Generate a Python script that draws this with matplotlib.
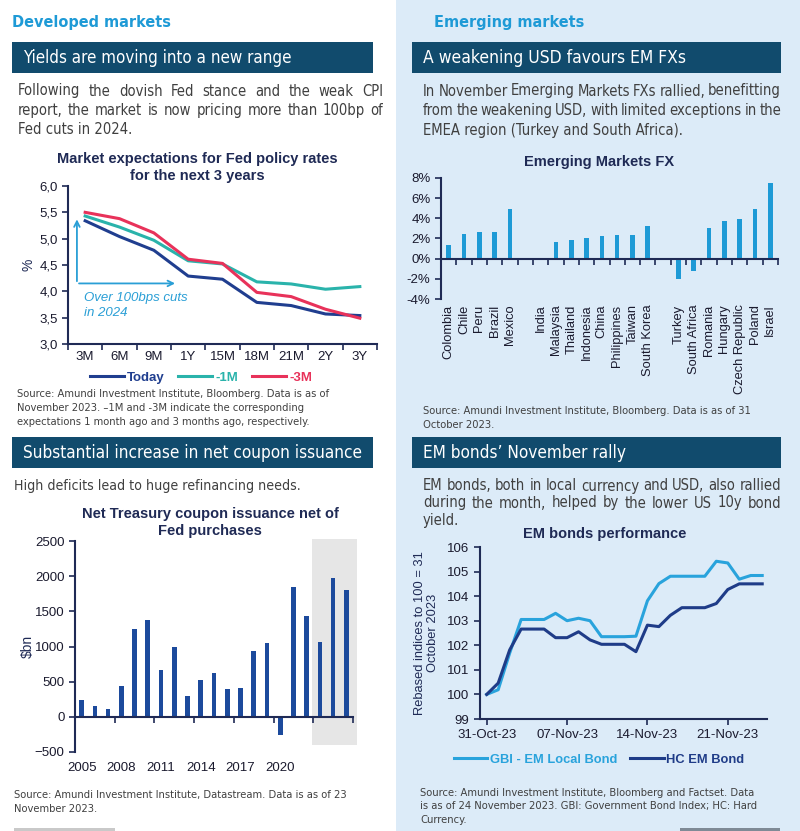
import numpy as np
import pandas as pd
import matplotlib
matplotlib.use('Agg')
import matplotlib.pyplot as plt
import matplotlib.dates as mdates
from matplotlib import font_manager
from matplotlib.patches import Rectangle
from matplotlib.ticker import FixedLocator, NullFormatter, FuncFormatter

plt.rcParams['font.family'] = ['Liberation Sans', 'DejaVu Sans']

W, H = 800, 831

NAVY = '#1f2a55'
HEADER = '#114b6d'
CYAN = '#1e9ad6'
TXT = '#404040'
PANEL = '#dcebf8'

# the report uses Arial Narrow for the running text
_fonts = font_manager.fontManager.ttflist
if any(f.name == 'Liberation Sans Narrow' for f in _fonts):
    NARROW = dict(family='Liberation Sans Narrow')
elif any(f.name == 'DejaVu Sans' and f.stretch != 'normal' for f in _fonts):
    NARROW = dict(family='DejaVu Sans', fontstretch='condensed')
else:
    NARROW = dict(family='Liberation Sans')

# Market expectations for Fed policy rates
fed_horizons = ['3M', '6M', '9M', '1Y', '15M', '18M', '21M', '2Y', '3Y']
fed_today = [5.34, 5.04, 4.78, 4.29, 4.23, 3.79, 3.73, 3.57, 3.54]
fed_1m = [5.43, 5.22, 4.97, 4.58, 4.52, 4.18, 4.14, 4.04, 4.09]
fed_3m = [5.50, 5.38, 5.11, 4.61, 4.53, 3.98, 3.90, 3.66, 3.49]

# Emerging markets FX (empty slots separate the regions)
fx_countries = ['Colombia', 'Chile', 'Peru', 'Brazil', 'Mexico', '',
                'India', 'Malaysia', 'Thailand', 'Indonesia', 'China',
                'Philippines', 'Taiwan', 'South Korea', '',
                'Turkey', 'South Africa', 'Romania', 'Hungary',
                'Czech Republic', 'Poland', 'Israel']
fx_change = [1.32, 2.40, 2.64, 2.64, 4.90, np.nan,
             -0.05, 1.65, 1.90, 2.00, 2.25, 2.35, 2.35, 3.27, np.nan,
             -2.00, -1.25, 3.05, 3.70, 3.90, 4.92, 7.47]

# Net Treasury coupon issuance net of Fed purchases ($bn)
issuance_years = ['2005', '2006', '2007', '2008', '2009', '2010', '2011',
                  '2012', '2013', '2014', '2015', '2016', '2017', '2018',
                  '2019', '2020', '2021', '2022', '2023E', '2024E', '2025E']
issuance = [237, 152, 118, 440, 1255, 1373, 672, 999, 303, 526, 630, 402,
            412, 942, 1056, -260, 1842, 1435, 1070, 1979, 1804]

# EM bonds performance
bond_dates = pd.date_range('2023-10-31', '2023-11-24', freq='D')
gbi_local = [100.0, 100.19, 101.68, 103.05, 103.05, 103.05, 103.3, 103.0,
             103.1, 103.0, 102.35, 102.35, 102.35, 102.37, 103.81, 104.51,
             104.81, 104.81, 104.81, 104.81, 105.42, 105.35, 104.69, 104.84,
             104.84]
hc_bond = [100.0, 100.46, 101.81, 102.66, 102.66, 102.66, 102.31, 102.31,
           102.55, 102.22, 102.04, 102.04, 102.04, 101.74, 102.82, 102.76,
           103.22, 103.53, 103.53, 103.53, 103.7, 104.27, 104.5, 104.5, 104.5]


fig = plt.figure(figsize=(W / 100, H / 100), dpi=100)
renderer = fig.canvas.get_renderer()
bg = fig.add_axes([0, 0, 1, 1])
bg.set_xlim(0, W)
bg.set_ylim(H, 0)
bg.axis('off')
bg.set_zorder(0)


def fit_size(s, width, **kw):
    '''Font size that makes the string s about width pixels wide.'''
    t = bg.text(0, 0, s, fontsize=10, **kw)
    w = t.get_window_extent(renderer).width
    t.remove()
    return 10 * width / w


def px_axes(x0, y0, x1, y1):
    ax = fig.add_axes([x0 / W, 1 - y1 / H, (x1 - x0) / W, (y1 - y0) / H])
    ax.set_zorder(1)
    ax.set_facecolor('none')
    for side in ['top', 'right']:
        ax.spines[side].set_visible(False)
    for side in ['left', 'bottom']:
        ax.spines[side].set_color(NAVY)
        ax.spines[side].set_linewidth(1.5)
    ax.tick_params(colors=NAVY, labelcolor='#1a1a2e', width=1.2, length=4,
                   labelsize=9.5)
    ax.tick_params(which='minor', labelsize=9.5, labelcolor='#1a1a2e')
    return ax


def lines_at(x, y, step, lines, **kw):
    for i, line in enumerate(lines):
        bg.text(x, y + i * step, line, va='center', **kw)


def justify(lines, x0, x1, y, step, **kw):
    for i, line in enumerate(lines):
        yy = y + i * step
        words = line.split()
        if i == len(lines) - 1:
            bg.text(x0, yy, line, va='center', **kw)
            continue
        texts = [bg.text(0, yy, w, va='center', **kw) for w in words]
        widths = [t.get_window_extent(renderer).width for t in texts]
        gap = (x1 - x0 - sum(widths)) / (len(words) - 1)
        x = x0
        for t, w in zip(texts, widths):
            t.set_x(x)
            x += w + gap


def header(x0, x1, y0, title, width):
    bg.add_patch(Rectangle((x0, y0), x1 - x0, 31, color=HEADER, lw=0))
    bg.text(x0 + 11, y0 + 16, title, color='white', va='center',
            fontsize=fit_size(title, width, **NARROW), **NARROW)


def category_ticks(ax, n, labels, pad, rotation=0):
    ax.set_xlim(-0.5, n - 0.5)
    ax.xaxis.set_major_locator(FixedLocator(np.arange(-0.5, n, 1.0)))
    ax.xaxis.set_major_formatter(NullFormatter())
    ax.xaxis.set_minor_locator(FixedLocator(np.arange(n)))
    ax.set_xticklabels(labels, minor=True, rotation=rotation)
    ax.tick_params(axis='x', which='minor', length=0, pad=pad)


# page furniture
bg.add_patch(Rectangle((396, 0), W - 396, H, color=PANEL, lw=0))
bg.add_patch(Rectangle((14, 828), 101, 3, color='#c9c9c9', lw=0))
bg.add_patch(Rectangle((680, 828), 100, 3, color='#7f8a96', lw=0))

sec = dict(color=CYAN, weight='bold', va='center', **NARROW)
sec_size = fit_size('Developed markets', 158, weight='bold', **NARROW)
bg.text(12, 23, 'Developed markets', fontsize=sec_size, **sec)
bg.text(434, 23, 'Emerging markets', fontsize=sec_size, **sec)
header(12, 373, 42, 'Yields are moving into a new range', 269)
header(412, 781, 42, 'A weakening USD favours EM FXs', 263)
header(12, 373, 437, 'Substantial increase in net coupon issuance', 341)
header(412, 781, 437, 'EM bonds\u2019 November rally', 203)

body_size = fit_size('report, the market is now pricing more than 100bp of', 356,
                     **NARROW)
body = dict(color=TXT, fontsize=body_size, **NARROW)
justify(['Following the dovish Fed stance and the weak CPI',
         'report, the market is now pricing more than 100bp of',
         'Fed cuts in 2024.'], 18, 383, 91, 19.5, **body)
justify(['In November Emerging Markets FXs rallied, benefitting',
         'from the weakening USD, with limited exceptions in the',
         'EMEA region (Turkey and South Africa).'], 423, 781, 91, 19.5, **body)
deficit = 'High deficits lead to huge refinancing needs.'
bg.text(14, 486, deficit, va='center', color=TXT,
        fontsize=fit_size(deficit, 287, **NARROW), **NARROW)
justify(['EM bonds, both in local currency and USD, also rallied',
         'during the month, helped by the lower US 10y bond',
         'yield.'], 423, 781, 486, 17, **body)

src_size = fit_size('Source: Amundi Investment Institute, Datastream. Data is as of 23',
                    333, **NARROW)
src = dict(color=TXT, fontsize=src_size, **NARROW)
lines_at(17, 394, 14, ['Source: Amundi Investment Institute, Bloomberg. Data is as of',
                       'November 2023. \u20131M and -3M indicate the corresponding',
                       'expectations 1 month ago and 3 months ago, respectively.'], **src)
lines_at(423, 411, 13.5, ['Source: Amundi Investment Institute, Bloomberg. Data is as of 31',
                          'October 2023.'], **src)
lines_at(14, 795, 13.5, ['Source: Amundi Investment Institute, Datastream. Data is as of 23',
                         'November 2023.'], **src)
lines_at(420, 793, 13.5, ['Source: Amundi Investment Institute, Bloomberg and Factset. Data',
                          'is as of 24 November 2023. GBI: Government Bond Index; HC: Hard',
                          'Currency.'], **src)

title = dict(color=NAVY, weight='bold', ha='center')
t1 = fit_size('Market expectations for Fed policy rates', 280, weight='bold')
lines_at(197, 159, 17, ['Market expectations for Fed policy rates',
                        'for the next 3 years'], fontsize=t1, **title)
lines_at(599, 162, 0, ['Emerging Markets FX'], fontsize=t1, **title)
lines_at(210, 514, 17, ['Net Treasury coupon issuance net of', 'Fed purchases'],
         fontsize=t1, **title)
lines_at(605, 534, 0, ['EM bonds performance'], fontsize=t1, **title)

# chart 1: Fed expectations
ax = px_axes(68, 186, 377, 344)
x = np.arange(len(fed_horizons))
ax.plot(x, fed_today, color='#203e8f', lw=2.2, label='Today')
ax.plot(x, fed_1m, color='#2ab3ab', lw=2.2, label='-1M')
ax.plot(x, fed_3m, color='#e8325a', lw=2.2, label='-3M')
ax.set_ylim(3.0, 6.0)
ax.set_yticks(np.arange(3.0, 6.01, 0.5))
ax.yaxis.set_major_formatter(FuncFormatter(lambda v, p: f'{v:.1f}'.replace('.', ',')))
category_ticks(ax, len(fed_horizons), fed_horizons, pad=5)
ax.set_ylabel('%', color=NAVY, fontsize=10, labelpad=3)
ax.annotate('', xy=(-0.24, 5.42), xytext=(-0.24, 4.14),
            arrowprops=dict(arrowstyle='->', color='#2a9fd6', lw=1.3))
ax.annotate('', xy=(2.7, 4.15), xytext=(-0.26, 4.15),
            arrowprops=dict(arrowstyle='->', color='#2a9fd6', lw=1.3))
ax.text(-0.04, 3.73, 'Over 100bps cuts\nin 2024', color='#2a9fd6', style='italic',
        fontsize=9.5, va='center', linespacing=1.4)
ax.legend(loc='center', bbox_to_anchor=(0.43, -0.215), ncol=3, frameon=False,
          labelcolor='linecolor', handlelength=2.6, handletextpad=0.25,
          columnspacing=1.0, prop=dict(weight='bold', size=9.5))

# chart 2: EM FX
ax = px_axes(441, 178, 778, 299)
x = np.arange(len(fx_countries))
ax.bar(x, fx_change, width=0.3, color='#1e9ad6')
ax.set_ylim(-4, 8)
ax.set_yticks(np.arange(-4, 8.1, 2))
ax.yaxis.set_major_formatter(FuncFormatter(lambda v, p: f'{v:.0f}%'))
ax.spines['bottom'].set_position(('data', 0))
category_ticks(ax, len(fx_countries), fx_countries, pad=33, rotation=90)
ax.tick_params(axis='x', which='minor', labelsize=9.3)

# chart 3: Treasury issuance
ax = px_axes(75, 541, 353, 752)
x = np.arange(len(issuance_years))
ax.add_patch(Rectangle((17.4, -405), 3.4, 2930, color='#e6e6e6', lw=0,
                       clip_on=False, zorder=0))
ax.bar(x, issuance, width=0.35, color='#1c4a9c', zorder=2)
ax.set_ylim(-500, 2500)
ax.set_yticks(np.arange(-500, 2501, 500))
ax.spines['bottom'].set_position(('data', 0))
ax.spines['bottom'].set_zorder(3)
ax.set_xlim(-0.5, len(x) - 0.5)
ax.xaxis.set_major_locator(FixedLocator(np.arange(2.5, len(x), 3)))
ax.xaxis.set_major_formatter(NullFormatter())
ax.xaxis.set_minor_locator(FixedLocator(x[::3][:-1]))
ax.set_xticklabels(issuance_years[::3][:-1], minor=True)
ax.tick_params(axis='x', which='minor', length=0, pad=32.5)
ax.set_ylabel('$bn', color=NAVY, fontsize=10, labelpad=0)

# chart 4: EM bonds
ax = px_axes(480, 547, 767, 719)
ax.plot(bond_dates, gbi_local, color='#29a3dc', lw=2.2, label='GBI - EM Local Bond')
ax.plot(bond_dates, hc_bond, color='#1f3c88', lw=2.2, label='HC EM Bond')
ax.set_ylim(99, 106)
ax.set_yticks(np.arange(99, 106.5, 1))
ax.set_xlim(bond_dates[0] - pd.Timedelta(hours=14),
            bond_dates[-1] + pd.Timedelta(hours=10))
ax.xaxis.set_major_locator(FixedLocator(mdates.date2num(bond_dates[::7])))
ax.xaxis.set_major_formatter(mdates.DateFormatter('%d-%b-%y'))
ax.set_ylabel('Rebased indices to 100 = 31\nOctober 2023', color=NAVY,
              fontsize=9.3, labelpad=6, linespacing=1.15)
ax.legend(loc='center', bbox_to_anchor=(0.415, -0.236), ncol=2, frameon=False,
          labelcolor='linecolor', handlelength=2.6, handletextpad=0.2,
          columnspacing=1.0, prop=dict(weight='bold', size=9.3))

fig.savefig('out.png', dpi=100)
